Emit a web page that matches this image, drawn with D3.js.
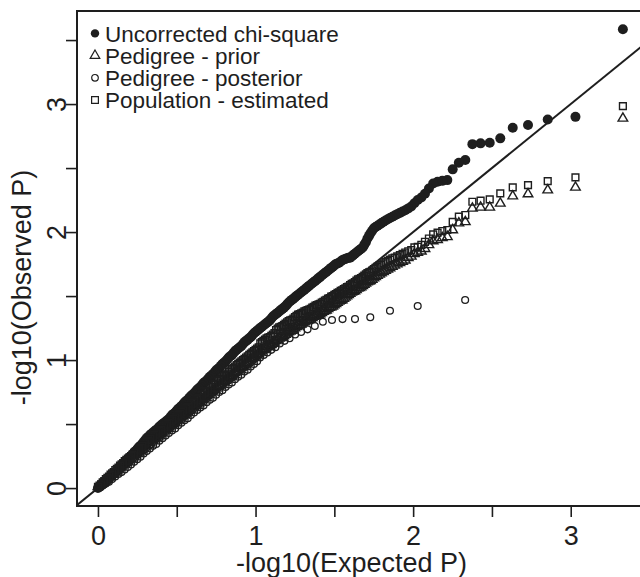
<!DOCTYPE html>
<html>
<head>
<meta charset="utf-8">
<script src="https://cdn.jsdelivr.net/npm/d3@7"></script>
<style>
  body { margin: 0; background: #fff; }
  svg { display: block; font-family: "Liberation Sans", Arial, Helvetica, sans-serif; }
</style>
</head>
<body>
<svg id="chart"></svg>
<script>
// -log10(expected p), shared by the three full-size scans
const expected = [
  3.331, 3.030, 2.854, 2.729, 2.632, 2.553, 2.486, 2.428, 2.376, 2.331,
  2.290, 2.251, 2.217, 2.185, 2.155, 2.127, 2.100, 2.075, 2.052, 2.029,
  2.008, 1.988, 1.969, 1.950, 1.933, 1.916, 1.899, 1.883, 1.868, 1.853,
  1.839, 1.825, 1.812, 1.799, 1.787, 1.774, 1.762, 1.751, 1.740, 1.729,
  1.72, 1.71, 1.70, 1.69, 1.68, 1.67, 1.66, 1.65, 1.64, 1.63,
  1.62, 1.61, 1.60, 1.59, 1.58, 1.57, 1.56, 1.55, 1.54, 1.53,
  1.52, 1.51, 1.50, 1.49, 1.48, 1.47, 1.46, 1.45, 1.44, 1.43,
  1.42, 1.41, 1.40, 1.39, 1.38, 1.37, 1.36, 1.35, 1.34, 1.33,
  1.32, 1.31, 1.30, 1.29, 1.28, 1.27, 1.26, 1.25, 1.24, 1.23,
  1.22, 1.21, 1.20, 1.19, 1.18, 1.17, 1.16, 1.15, 1.14, 1.13,
  1.12, 1.11, 1.10, 1.09, 1.08, 1.07, 1.06, 1.05, 1.04, 1.03,
  1.02, 1.01, 1.00, 0.99, 0.98, 0.97, 0.96, 0.95, 0.94, 0.93,
  0.92, 0.91, 0.90, 0.89, 0.88, 0.87, 0.86, 0.85, 0.84, 0.83,
  0.82, 0.81, 0.80, 0.79, 0.78, 0.77, 0.76, 0.75, 0.74, 0.73,
  0.72, 0.71, 0.70, 0.69, 0.68, 0.67, 0.66, 0.65, 0.64, 0.63,
  0.62, 0.61, 0.60, 0.59, 0.58, 0.57, 0.56, 0.55, 0.54, 0.53,
  0.52, 0.51, 0.50, 0.49, 0.48, 0.47, 0.46, 0.45, 0.44, 0.43,
  0.42, 0.41, 0.40, 0.39, 0.38, 0.37, 0.36, 0.35, 0.34, 0.33,
  0.32, 0.31, 0.30, 0.29, 0.28, 0.27, 0.26, 0.25, 0.24, 0.23,
  0.22, 0.21, 0.20, 0.19, 0.18, 0.17, 0.16, 0.15, 0.14, 0.13,
  0.12, 0.11, 0.10, 0.09, 0.08, 0.07, 0.06, 0.05, 0.04, 0.03,
  0.02, 0.01, 0.00
];

// -log10(observed p)
const uncorrected = [
  3.584, 2.900, 2.880, 2.836, 2.815, 2.732, 2.698, 2.693, 2.687, 2.563,
  2.541, 2.490, 2.406, 2.400, 2.393, 2.380, 2.340, 2.300, 2.270, 2.250,
  2.225, 2.200, 2.185, 2.170, 2.160, 2.150, 2.140, 2.130, 2.120, 2.110,
  2.100, 2.090, 2.080, 2.070, 2.060, 2.050, 2.040, 2.030, 2.010, 1.990,
  1.97, 1.95, 1.92, 1.90, 1.88, 1.87, 1.86, 1.85, 1.84, 1.83,
  1.82, 1.81, 1.80, 1.80, 1.795, 1.79, 1.785, 1.78, 1.77, 1.76,
  1.755, 1.75, 1.74, 1.73, 1.72, 1.71, 1.70, 1.69, 1.68, 1.67,
  1.66, 1.65, 1.64, 1.63, 1.62, 1.61, 1.60, 1.59, 1.58, 1.57,
  1.56, 1.55, 1.54, 1.53, 1.52, 1.51, 1.50, 1.49, 1.48, 1.47,
  1.46, 1.45, 1.435, 1.42, 1.41, 1.40, 1.39, 1.38, 1.37, 1.36,
  1.35, 1.34, 1.325, 1.31, 1.30, 1.29, 1.28, 1.27, 1.26, 1.25,
  1.24, 1.23, 1.22, 1.21, 1.195, 1.18, 1.17, 1.16, 1.15, 1.14,
  1.125, 1.11, 1.10, 1.09, 1.08, 1.07, 1.055, 1.04, 1.03, 1.02,
  1.005, 0.99, 0.98, 0.97, 0.955, 0.94, 0.93, 0.92, 0.905, 0.89,
  0.88, 0.87, 0.855, 0.84, 0.83, 0.82, 0.805, 0.79, 0.78, 0.77,
  0.755, 0.74, 0.73, 0.72, 0.705, 0.69, 0.68, 0.67, 0.655, 0.64,
  0.63, 0.62, 0.605, 0.59, 0.58, 0.57, 0.555, 0.54, 0.53, 0.52,
  0.51, 0.50, 0.49, 0.48, 0.465, 0.455, 0.445, 0.435, 0.425, 0.415,
  0.40, 0.39, 0.375, 0.36, 0.345, 0.33, 0.32, 0.305, 0.29, 0.28,
  0.265, 0.25, 0.24, 0.225, 0.21, 0.20, 0.185, 0.17, 0.16, 0.145,
  0.135, 0.12, 0.11, 0.10, 0.09, 0.08, 0.065, 0.05, 0.04, 0.03,
  0.02, 0.01, 0.00
];

const prior = [
  2.888, 2.349, 2.328, 2.297, 2.281, 2.224, 2.193, 2.193, 2.185, 2.080,
  2.070, 2.016, 1.963, 1.955, 1.940, 1.930, 1.900, 1.870, 1.850, 1.840,
  1.830, 1.810, 1.800, 1.780, 1.770, 1.760, 1.750, 1.740, 1.730, 1.720,
  1.710, 1.700, 1.690, 1.680, 1.670, 1.660, 1.650, 1.640, 1.630, 1.620,
  1.615, 1.61, 1.60, 1.59, 1.58, 1.57, 1.565, 1.56, 1.55, 1.54,
  1.535, 1.53, 1.52, 1.51, 1.50, 1.49, 1.48, 1.47, 1.465, 1.46,
  1.45, 1.44, 1.43, 1.42, 1.415, 1.41, 1.40, 1.39, 1.385, 1.38,
  1.37, 1.36, 1.355, 1.35, 1.345, 1.34, 1.33, 1.32, 1.315, 1.31,
  1.305, 1.30, 1.29, 1.28, 1.275, 1.27, 1.26, 1.25, 1.24, 1.23,
  1.225, 1.22, 1.21, 1.20, 1.19, 1.18, 1.175, 1.17, 1.16, 1.15,
  1.14, 1.13, 1.12, 1.11, 1.105, 1.10, 1.09, 1.08, 1.07, 1.06,
  1.05, 1.04, 1.03, 1.02, 1.01, 1.00, 0.99, 0.98, 0.97, 0.96,
  0.95, 0.94, 0.93, 0.92, 0.91, 0.90, 0.89, 0.88, 0.87, 0.86,
  0.85, 0.84, 0.83, 0.82, 0.81, 0.80, 0.79, 0.78, 0.77, 0.76,
  0.75, 0.74, 0.73, 0.72, 0.71, 0.70, 0.69, 0.675, 0.665, 0.655,
  0.645, 0.635, 0.625, 0.615, 0.605, 0.595, 0.585, 0.575, 0.565, 0.555,
  0.545, 0.535, 0.525, 0.515, 0.505, 0.495, 0.485, 0.475, 0.465, 0.455,
  0.445, 0.435, 0.425, 0.415, 0.405, 0.395, 0.385, 0.375, 0.365, 0.355,
  0.34, 0.33, 0.32, 0.31, 0.30, 0.29, 0.28, 0.27, 0.26, 0.25,
  0.24, 0.23, 0.22, 0.21, 0.20, 0.19, 0.18, 0.17, 0.16, 0.15,
  0.135, 0.125, 0.115, 0.105, 0.095, 0.085, 0.075, 0.06, 0.05, 0.04,
  0.03, 0.02, 0.01
];

const population = [
  2.984, 2.427, 2.398, 2.367, 2.349, 2.302, 2.255, 2.245, 2.237, 2.133,
  2.120, 2.080, 2.016, 2.008, 1.995, 1.982, 1.950, 1.924, 1.900, 1.885,
  1.880, 1.860, 1.850, 1.840, 1.830, 1.820, 1.810, 1.800, 1.795, 1.785,
  1.775, 1.765, 1.755, 1.745, 1.740, 1.730, 1.720, 1.710, 1.700, 1.690,
  1.685, 1.68, 1.67, 1.66, 1.65, 1.64, 1.635, 1.63, 1.62, 1.61,
  1.60, 1.595, 1.585, 1.575, 1.57, 1.56, 1.555, 1.545, 1.54, 1.53,
  1.525, 1.515, 1.51, 1.50, 1.495, 1.485, 1.48, 1.47, 1.465, 1.455,
  1.45, 1.44, 1.435, 1.43, 1.425, 1.415, 1.41, 1.40, 1.395, 1.39,
  1.385, 1.38, 1.37, 1.365, 1.36, 1.355, 1.345, 1.335, 1.325, 1.315,
  1.31, 1.305, 1.295, 1.285, 1.275, 1.265, 1.26, 1.255, 1.245, 1.235,
  1.21, 1.20, 1.19, 1.18, 1.175, 1.17, 1.16, 1.15, 1.14, 1.13,
  1.10, 1.09, 1.08, 1.07, 1.06, 1.05, 1.04, 1.03, 1.02, 1.01,
  1.00, 0.99, 0.98, 0.97, 0.96, 0.95, 0.94, 0.93, 0.92, 0.91,
  0.895, 0.885, 0.875, 0.865, 0.855, 0.845, 0.835, 0.825, 0.815, 0.805,
  0.79, 0.78, 0.77, 0.76, 0.75, 0.74, 0.73, 0.715, 0.705, 0.695,
  0.685, 0.675, 0.665, 0.655, 0.645, 0.635, 0.625, 0.615, 0.605, 0.595,
  0.58, 0.57, 0.56, 0.55, 0.54, 0.53, 0.52, 0.51, 0.50, 0.49,
  0.475, 0.465, 0.455, 0.445, 0.435, 0.425, 0.415, 0.405, 0.395, 0.385,
  0.37, 0.36, 0.35, 0.34, 0.33, 0.315, 0.305, 0.295, 0.285, 0.275,
  0.26, 0.25, 0.24, 0.23, 0.22, 0.21, 0.195, 0.185, 0.175, 0.16,
  0.15, 0.14, 0.125, 0.115, 0.105, 0.09, 0.08, 0.07, 0.055, 0.045,
  0.03, 0.02, 0.01
];

// the posterior scan has fewer tests, so its own expected values
const posteriorExpected = [
  2.330, 2.029, 1.853, 1.728, 1.631, 1.552, 1.485, 1.427, 1.376, 1.330,
  1.289, 1.251, 1.216, 1.184, 1.154, 1.126, 1.100, 1.075, 1.052, 1.029,
  1.01, 0.99, 0.97, 0.95, 0.93, 0.91, 0.89, 0.87, 0.85, 0.83,
  0.81, 0.79, 0.77, 0.75, 0.73, 0.71, 0.69, 0.67, 0.65, 0.63,
  0.61, 0.59, 0.57, 0.55, 0.53, 0.51, 0.49, 0.47, 0.45, 0.43,
  0.41, 0.39, 0.37, 0.35, 0.33, 0.31, 0.29, 0.27, 0.25, 0.23,
  0.21, 0.19, 0.17, 0.15, 0.13, 0.11, 0.09, 0.07, 0.05, 0.03,
  0.01
];
const posterior = [
  1.469, 1.422, 1.385, 1.334, 1.320, 1.320, 1.313, 1.299, 1.266, 1.240,
  1.220, 1.200, 1.170, 1.150, 1.130, 1.100, 1.080, 1.060, 1.040, 1.020,
  0.99, 0.97, 0.95, 0.925, 0.91, 0.885, 0.87, 0.85, 0.825, 0.81,
  0.79, 0.765, 0.75, 0.73, 0.705, 0.69, 0.67, 0.645, 0.63, 0.61,
  0.59, 0.57, 0.545, 0.53, 0.51, 0.49, 0.465, 0.45, 0.43, 0.41,
  0.39, 0.37, 0.345, 0.33, 0.31, 0.29, 0.27, 0.245, 0.225, 0.205,
  0.185, 0.165, 0.145, 0.125, 0.11, 0.09, 0.07, 0.05, 0.035, 0.02,
  0.005
];

const xTicks = [0, 0.5, 1, 1.5, 2, 2.5, 3];
const yTicks = [0, 0.5, 1, 1.5, 2, 2.5, 3, 3.5];
const legendLabels = ["Uncorrected chi-square", "Pedigree - prior", "Pedigree - posterior", "Population - estimated"];

const width = 640;
const height = 577;
const marginTop = 11;
const marginLeft = 77;
const marginBottom = 71;
const plotRight = 647;   // frame runs just past the window edge
const ink = "#1e1e1e";

const x = d3.scaleLinear()
    .domain([-0.133, 3.484])
    .range([marginLeft, plotRight]);

const y = d3.scaleLinear()
    .domain([-0.14, 3.727])
    .range([height - marginBottom, marginTop]);

const svg = d3.select("#chart")
    .attr("width", width)
    .attr("height", height);

svg.append("clipPath").attr("id", "plot-clip")
  .append("rect")
    .attr("x", marginLeft)
    .attr("y", marginTop)
    .attr("width", plotRight - marginLeft)
    .attr("height", height - marginBottom - marginTop);

const plot = svg.append("g").attr("clip-path", "url(#plot-clip)");

// y = x reference line
plot.append("line")
    .attr("x1", x(-0.2)).attr("y1", y(-0.2))
    .attr("x2", x(4)).attr("y2", y(4))
    .attr("stroke", ink)
    .attr("stroke-width", 2);

const pairs = (xs, ys) => xs.map((v, i) => [v, ys[i]]).filter(d => d[1] != null);

// uncorrected: filled circles
plot.append("g")
  .selectAll("circle")
  .data(pairs(expected, uncorrected))
  .join("circle")
    .attr("cx", d => x(d[0]))
    .attr("cy", d => y(d[1]))
    .attr("r", 5)
    .attr("fill", ink);

// pedigree prior: open triangles
const tri = d3.symbol().type(d3.symbolTriangle).size(40);
plot.append("g")
  .selectAll("path")
  .data(pairs(expected, prior))
  .join("path")
    .attr("transform", d => `translate(${x(d[0])},${y(d[1])})`)
    .attr("d", tri)
    .attr("fill", "none")
    .attr("stroke", ink)
    .attr("stroke-width", 1.4);

// pedigree posterior: open circles
plot.append("g")
  .selectAll("circle")
  .data(pairs(posteriorExpected, posterior))
  .join("circle")
    .attr("cx", d => x(d[0]))
    .attr("cy", d => y(d[1]))
    .attr("r", 3.4)
    .attr("fill", "none")
    .attr("stroke", ink)
    .attr("stroke-width", 1.3);

// population: open squares
const sq = d3.symbol().type(d3.symbolSquare).size(46);
plot.append("g")
  .selectAll("path")
  .data(pairs(expected, population))
  .join("path")
    .attr("transform", d => `translate(${x(d[0])},${y(d[1])})`)
    .attr("d", sq)
    .attr("fill", "none")
    .attr("stroke", ink)
    .attr("stroke-width", 1.4);

// frame
svg.append("rect")
    .attr("x", marginLeft)
    .attr("y", marginTop)
    .attr("width", plotRight - marginLeft)
    .attr("height", height - marginBottom - marginTop)
    .attr("fill", "none")
    .attr("stroke", ink)
    .attr("stroke-width", 2);

// axes
svg.append("g")
    .attr("transform", `translate(0,${height - marginBottom})`)
    .call(d3.axisBottom(x)
        .tickValues(xTicks)
        .tickSize(11)
        .tickPadding(9)
        .tickFormat(d => Number.isInteger(d) ? d : ""))
    .call(g => g.select(".domain").remove())
    .call(g => g.selectAll(".tick line").attr("stroke", ink).attr("stroke-width", 1.6))
    .call(g => g.selectAll(".tick text")
        .attr("fill", ink)
        .attr("font-size", 27)
        .attr("font-family", "Liberation Sans, Arial, sans-serif"));

svg.append("g")
    .attr("transform", `translate(${marginLeft},0)`)
    .call(d3.axisLeft(y)
        .tickValues(yTicks)
        .tickSize(11)
        .tickFormat(d => Number.isInteger(d) ? d : ""))
    .call(g => g.select(".domain").remove())
    .call(g => g.selectAll(".tick line").attr("stroke", ink).attr("stroke-width", 1.6))
    .call(g => g.selectAll(".tick text")
        .attr("x", null)
        .attr("dy", null)
        .attr("transform", "translate(-11.5,0) rotate(-90)")
        .attr("text-anchor", "middle")
        .attr("fill", ink)
        .attr("font-size", 27)
        .attr("font-family", "Liberation Sans, Arial, sans-serif"));

// axis titles
svg.append("text")
    .attr("x", 351.5)
    .attr("y", 572)
    .attr("text-anchor", "middle")
    .attr("font-size", 27)
    .attr("fill", ink)
    .text("-log10(Expected P)");

svg.append("text")
    .attr("transform", "translate(31,287.5) rotate(-90)")
    .attr("text-anchor", "middle")
    .attr("font-size", 27)
    .attr("fill", ink)
    .text("-log10(Observed P)");

// legend
const legend = svg.append("g").attr("transform", "translate(95,0)");
const rowY = i => 33.4 + i * 22.2;

legend.append("circle")
    .attr("cx", 0).attr("cy", rowY(0))
    .attr("r", 4.2)
    .attr("fill", ink);
legend.append("path")
    .attr("transform", `translate(0,${rowY(1)})`)
    .attr("d", tri)
    .attr("fill", "none").attr("stroke", ink).attr("stroke-width", 1.2);
legend.append("circle")
    .attr("cx", 0).attr("cy", rowY(2))
    .attr("r", 3.3)
    .attr("fill", "none").attr("stroke", ink).attr("stroke-width", 1.2);
legend.append("path")
    .attr("transform", `translate(0,${rowY(3)})`)
    .attr("d", sq)
    .attr("fill", "none").attr("stroke", ink).attr("stroke-width", 1.2);

legend.selectAll("text")
  .data(legendLabels)
  .join("text")
    .attr("x", 10)
    .attr("y", (d, i) => rowY(i) + 8.2)
    .attr("font-size", 22.5)
    .attr("fill", ink)
    .text(d => d);
</script>
</body>
</html>
